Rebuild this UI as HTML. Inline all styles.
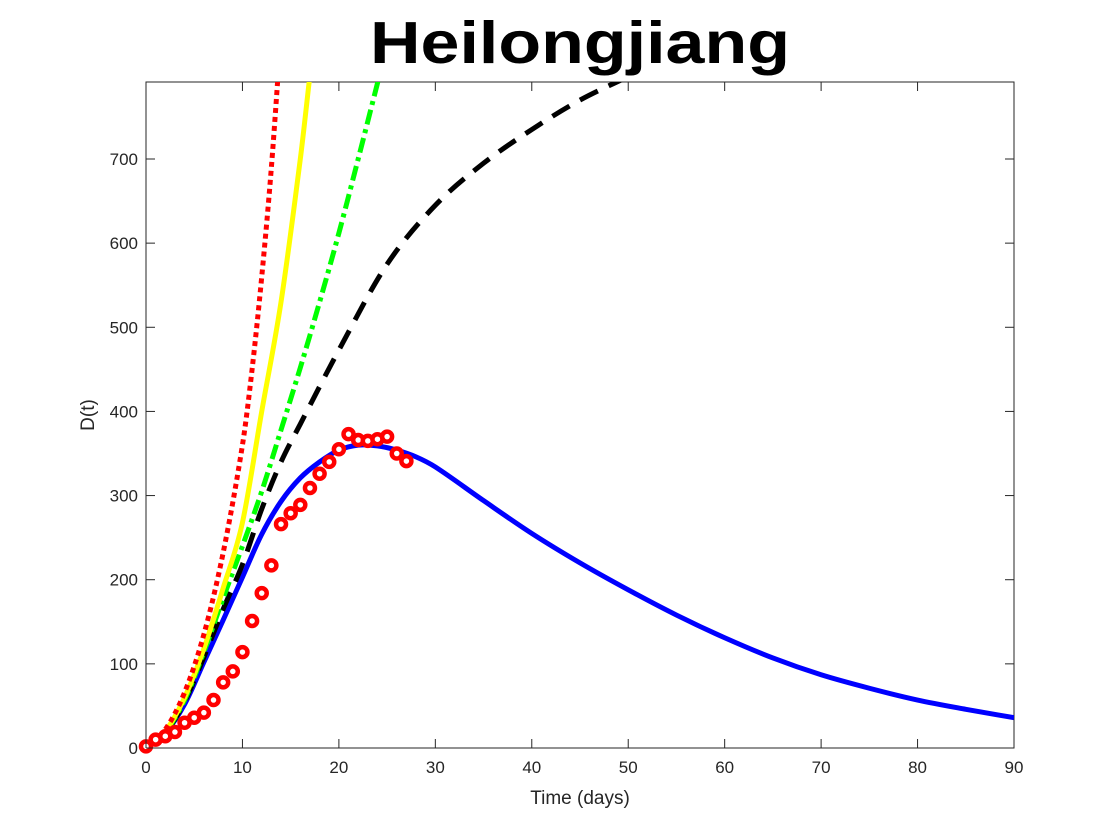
<!DOCTYPE html>
<html><head><meta charset="utf-8"><style>
html,body{margin:0;padding:0;background:#fff;}
svg{display:block;font-family:"Liberation Sans",Arial,sans-serif;}
</style></head><body>
<svg id="chart" width="1120" height="840" viewBox="0 0 1120 840">
<rect x="0" y="0" width="1120" height="840" fill="#fff"/>
<defs><clipPath id="clip"><rect x="146" y="82" width="868" height="666"/></clipPath></defs>
<text x="580" y="63" text-anchor="middle" font-size="59" font-weight="bold" textLength="420" lengthAdjust="spacingAndGlyphs">Heilongjiang</text>
<rect x="146" y="82" width="868" height="666" fill="none" stroke="#262626" stroke-width="1"/>
<g id="curves" clip-path="url(#clip)"></g>
<g id="markers"></g>
<g id="axes"></g>
<text x="580" y="804" text-anchor="middle" font-size="19" fill="#262626">Time (days)</text>
<text transform="translate(94,415) rotate(-90)" text-anchor="middle" font-size="19" fill="#262626">D(t)</text>
</svg>
<script>
const xTicks=[0,10,20,30,40,50,60,70,80,90];
const yTicks=[0,100,200,300,400,500,600,700];
const dataDays=[0,1,2,3,4,5,6,7,8,9,10,11,12,13,14,15,16,17,18,19,20,21,22,23,24,25,26,27];
const dataValues=[2,10,14,19,30,36,42,57,78,91,114,151,184,217,266,279,289,309,326,340,355,373,366,365,367,370,350,341];
const blueDays=[0,2,4,6,8,10,12,14,16,18,20,22,24,26,28,30,35,40,45,50,55,60,65,70,75,80,85,90];
const blueValues=[0,18,52,102,152,203,254,293,321,340,354,360,359,354,346,334,294,255,220,188,158,131,107,87,71,57,46,36];
const blackDays=[0,2,4,6,8,10,12,14,16,20,25,30,35,40,45,50,52];
const blackValues=[0,18,55,108,165,218,284,340,385,473,575,645,695,735,770,798,810];
const greenDays=[0,2,4,6,8,10,12,14,16,18,20,22,24,25];
const greenValues=[0,19,57,114,178,240,305,378,452,530,612,700,790,835];
const yellowDays=[0,2,4,6,8,10,12,14,16,17,18];
const yellowValues=[0,20,60,118,190,268,400,530,700,800,900];
const redDays=[0,2,4,6,8,10,11,12,13,14];
const redValues=[0,22,66,135,232,360,450,560,690,850];
const X0=146,X1=1014,Y0=748,Y1=82,XMAX=90,YMAX=791.5;
const sx=v=>X0+(X1-X0)*v/XMAX;
const sy=v=>Y0-(Y0-Y1)*v/YMAX;
const NS='http://www.w3.org/2000/svg';
function pathFrom(xs,ys){
  const p=xs.map((x,i)=>[sx(x),sy(ys[i])]);
  const n=p.length;
  const m=p.map((q,i)=>{
    const a=p[Math.max(0,i-1)],c=p[Math.min(n-1,i+1)];
    return (c[1]-a[1])/(c[0]-a[0]);
  });
  let d='M'+p[0][0]+','+p[0][1];
  for(let i=0;i<n-1;i++){
    const b=p[i],c=p[i+1],h=(c[0]-b[0])/3;
    d+=' C'+(b[0]+h)+','+(b[1]+h*m[i])+' '+(c[0]-h)+','+(c[1]-h*m[i+1])+' '+c[0]+','+c[1];
  }
  return d;
}
const curves=document.getElementById('curves');
function addCurve(xs,ys,color,dash,name){
  const el=document.createElementNS(NS,'path');
  el.setAttribute('d',pathFrom(xs,ys));
  el.setAttribute('fill','none');
  el.setAttribute('stroke',color);
  el.setAttribute('stroke-width','5');
  if(dash)el.setAttribute('stroke-dasharray',dash);
  
  
  curves.appendChild(el);
}
addCurve(blueDays,blueValues,'#0000ff',null,'blue-model-line');
addCurve(blackDays,blackValues,'#000000','20 12','black-dashed-line');
addCurve(greenDays,greenValues,'#00ff00','15 5 4 5','green-dashdot-line');
addCurve(yellowDays,yellowValues,'#ffff00',null,'yellow-solid-line');
addCurve(redDays,redValues,'#ff0000','5 4','red-dotted-line');
const mk=document.getElementById('markers');
dataDays.forEach((d,i)=>{
  const c=document.createElementNS(NS,'circle');
  c.setAttribute('cx',sx(d));c.setAttribute('cy',sy(dataValues[i]));
  c.setAttribute('r','5');c.setAttribute('fill','#fff');
  c.setAttribute('stroke','#ff0000');c.setAttribute('stroke-width','4.5');
  
  
  mk.appendChild(c);
});
const ax=document.getElementById('axes');
xTicks.forEach(t=>{
  const x=sx(t);
  [[Y0,Y0-9],[Y1,Y1+9]].forEach(([a,b])=>{
    const l=document.createElementNS(NS,'line');
    l.setAttribute('x1',x);l.setAttribute('x2',x);l.setAttribute('y1',a);l.setAttribute('y2',b);
    l.setAttribute('stroke','#262626');
    
    
    ax.appendChild(l);
  });
  const tx=document.createElementNS(NS,'text');
  tx.setAttribute('x',x);tx.setAttribute('y',Y0+25);tx.setAttribute('text-anchor','middle');
  tx.setAttribute('font-size','17');tx.setAttribute('fill','#262626');
  tx.textContent=t;
  
  
  ax.appendChild(tx);
});
yTicks.forEach(t=>{
  const y=sy(t);
  [[X0,X0+9],[X1,X1-9]].forEach(([a,b])=>{
    const l=document.createElementNS(NS,'line');
    l.setAttribute('x1',a);l.setAttribute('x2',b);l.setAttribute('y1',y);l.setAttribute('y2',y);
    l.setAttribute('stroke','#262626');
    
    
    ax.appendChild(l);
  });
  const tx=document.createElementNS(NS,'text');
  tx.setAttribute('x',X0-8);tx.setAttribute('y',y+6);tx.setAttribute('text-anchor','end');
  tx.setAttribute('font-size','17');tx.setAttribute('fill','#262626');
  tx.textContent=t;
  
  
  ax.appendChild(tx);
});
</script>
</body></html>
